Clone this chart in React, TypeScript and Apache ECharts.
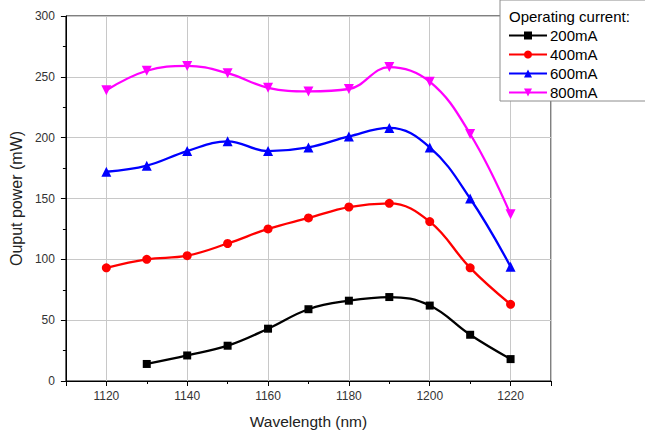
import React, { useEffect, useRef } from "react";
import * as echarts from "echarts";

const wavelengths = [1120, 1130, 1140, 1150, 1160, 1170, 1180, 1190, 1200, 1210, 1220];
const p200: (number | null)[] = [null, 14, 21, 29, 43, 59, 66, 69, 62, 38, 18];
const p400 = [93, 100, 103, 113, 125, 134, 143, 146, 131, 93, 63];
const p600 = [172, 177, 189, 197, 189, 192, 201, 208, 192, 150, 94];
const p800 = [239, 255, 259, 253, 241, 238, 240, 258, 246, 203, 137];
const seriesNames = ["200mA", "400mA", "600mA", "800mA"];
const seriesColors = ["#000000", "#ff0000", "#0000ff", "#ff00ff"];

const FONT = "'Liberation Sans', Arial, sans-serif";

function pairs(vals: (number | null)[]) {
  const out: [number, number][] = [];
  vals.forEach((v, i) => {
    if (v !== null) out.push([wavelengths[i], v]);
  });
  return out;
}

export default function App() {
  const ref = useRef<HTMLDivElement>(null);
  useEffect(() => {
    if (!ref.current) return;
    const chart = echarts.init(ref.current, null, { renderer: "svg" });
    const data = [p200, p400, p600, p800];
    const symbols = ["rect", "circle", "triangle", "triangle"];
    const sizes = [8, 9, 10, 10];
    const rotates = [0, 0, 0, 180];
    chart.setOption({
      animation: false,
      backgroundColor: "#fff",
      textStyle: { fontFamily: FONT },
      grid: {
        left: 59,
        right: 94,
        top: 16,
        bottom: 51,
        show: true,
        borderColor: "#000",
        borderWidth: 1,
        backgroundColor: "transparent",
      },
      xAxis: {
        type: "value",
        min: 1110,
        max: 1230,
        splitNumber: 6,
        name: "Wavelength (nm)",
        nameLocation: "middle",
        nameGap: 32,
        nameTextStyle: { fontSize: 15.5, color: "#222", fontFamily: FONT },
        axisLine: { lineStyle: { color: "#000", width: 1 } },
        axisTick: { length: 5, lineStyle: { color: "#000" } },
        minorTick: { show: true, splitNumber: 2, length: 3, lineStyle: { color: "#000" } },
        axisLabel: {
          fontSize: 12,
          color: "#333",
          margin: 9,
          fontFamily: FONT,
          showMinLabel: false,
          showMaxLabel: false,
          formatter: (v: number) => (v >= 1120 && v <= 1220 ? String(v) : ""),
        },
        splitLine: { show: true, lineStyle: { color: "#c8c8c8", width: 1 } },
      },
      yAxis: {
        type: "value",
        min: 0,
        max: 300,
        interval: 50,
        name: "Ouput power (mW)",
        nameLocation: "middle",
        nameGap: 37,
        nameTextStyle: { fontSize: 16, color: "#222", fontFamily: FONT },
        axisLine: { show: true, lineStyle: { color: "#000", width: 1 } },
        axisTick: { show: true, length: 5, lineStyle: { color: "#000" } },
        minorTick: { show: true, splitNumber: 2, length: 3, lineStyle: { color: "#000" } },
        axisLabel: { fontSize: 12, color: "#333", margin: 11, fontFamily: FONT },
        splitLine: { show: true, lineStyle: { color: "#c8c8c8", width: 1 } },
      },
      legend: {
        orient: "vertical",
        left: 500,
        top: 0,
        width: 200,
        padding: [28, 60, 1, 8],
        backgroundColor: "#fff",
        borderColor: "#8c8c8c",
        borderWidth: 1,
        itemWidth: 38,
        itemHeight: 10,
        itemGap: 4,
        textStyle: { fontSize: 15, lineHeight: 15, color: "#000", fontFamily: FONT, padding: [0, 0, 0, -2] },
        data: seriesNames,
      },
      graphic: [
        {
          type: "text",
          left: 509,
          top: 9,
          z: 100,
          style: { text: "Operating current:", fontSize: 15, fill: "#000", fontFamily: FONT },
        },
      ],
      series: data.map((d, i) => ({
        name: seriesNames[i],
        type: "line",
        data: pairs(d),
        smooth: 0.4,
        symbol: symbols[i],
        symbolSize: sizes[i],
        symbolRotate: rotates[i],
        showAllSymbol: true,
        color: seriesColors[i],
        lineStyle: { color: seriesColors[i], width: 2.3 },
        itemStyle: { color: seriesColors[i] },
      })),
    });
    return () => chart.dispose();
  }, []);
  return (
    <div
      ref={ref}
      style={{ position: "fixed", left: 0, top: 0, width: 645, height: 434 }}
    />
  );
}
